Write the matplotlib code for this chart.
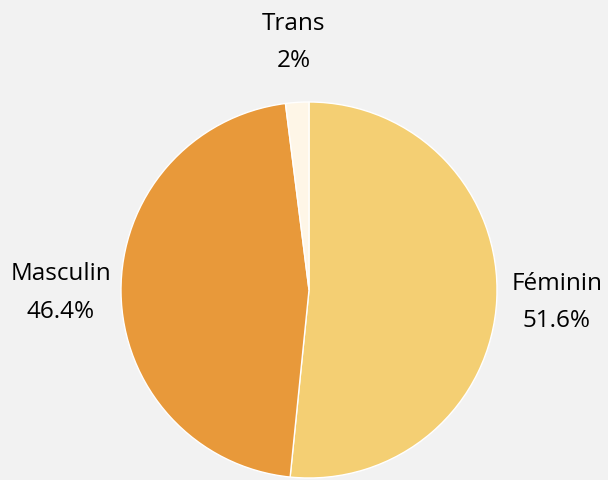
import matplotlib
matplotlib.use('Agg')
import matplotlib.pyplot as plt
import numpy as np

# données du graphique
categories = ['Féminin', 'Masculin', 'Trans']
valeurs = [51.6, 46.4, 2.0]
couleurs = ['#f4cf73', '#e8993a', '#fef6e7']

plt.rcParams['font.family'] = ['Open Sans', 'DejaVu Sans']

fig = plt.figure(figsize=(6.08, 4.8), dpi=100)
fig.patch.set_facecolor('#f2f2f2')

# centre du camembert ~ (309, 290) px, rayon ~188 px
ax = fig.add_axes([(309 - 188) / 608, (480 - 290 - 188) / 480, 376 / 608, 376 / 480])
ax.set_facecolor('#f2f2f2')

wedges, _ = ax.pie(valeurs, colors=couleurs, startangle=90, counterclock=False,
                   wedgeprops=dict(edgecolor='white', linewidth=1))

# étiquettes : nom + pourcentage, au milieu de chaque part
total = sum(valeurs)
cumul = 0
for cat, val in zip(categories, valeurs):
    milieu = 90 - 360 * (cumul + val / 2) / total
    cumul += val
    r = 1.32
    x = r * np.cos(np.radians(milieu))
    y = r * np.sin(np.radians(milieu))
    ax.text(x, y, f"{cat}\n{val:g}%", ha='center', va='center', fontsize=17.5,
            linespacing=1.75, color='black', clip_on=False)

ax.set_xlim(-1, 1)
ax.set_ylim(-1, 1)
ax.set_aspect('equal')
ax.axis('off')

plt.savefig('out.png', dpi=100, facecolor=fig.get_facecolor())
